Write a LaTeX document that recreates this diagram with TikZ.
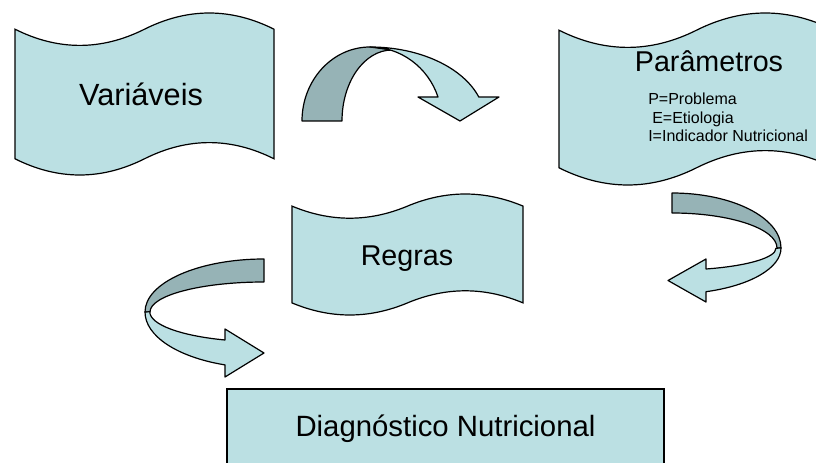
\documentclass[tikz,border=0pt]{standalone}
\usepackage{fontspec}
\setmainfont{Liberation Sans}
\usetikzlibrary{positioning}
\definecolor{nutfill}{RGB}{187,224,227}
\definecolor{nutback}{RGB}{150,179,182}
\tikzset{
  nut tape/.style={draw=black, fill=nutfill, line width=0.9pt},
  nut front/.style={draw=black, fill=nutfill, line width=0.9pt, line join=round},
  nut back/.style={draw=black, fill=nutback, line width=0.9pt, line join=round},
  nut big/.style={inner sep=0pt, font=\fontsize{22}{26}\selectfont},
  nut small/.style={inner sep=0pt, font=\fontsize{12}{14}\selectfont}
}
% punched tape: left x, top y (screen px), width, height
\newcommand{\nuttape}[4]{%
  \pgfmathsetmacro{\tpa}{0.1*#4}%
  \pgfmathsetmacro{\tpb}{0.1333*#4}%
  \pgfmathsetmacro{\tpc}{#3/6}%
  \pgfmathsetmacro{\tph}{0.5*#3}%
  \pgfmathsetmacro{\tpd}{0.8*#4}%
  \draw[nut tape] (#1,-#2-\tpa)
    .. controls +(\tpc,-\tpb) and +(-\tpc,-\tpb) .. ++(\tph,0)
    .. controls +(\tpc,\tpb) and +(-\tpc,\tpb) .. ++(\tph,0)
    -- ++(0,-\tpd)
    .. controls +(-\tpc,\tpb) and +(\tpc,\tpb) .. ++(-\tph,0)
    .. controls +(-\tpc,-\tpb) and +(\tpc,-\tpb) .. ++(-\tph,0)
    -- cycle;}

\begin{document}
\begin{tikzpicture}[x=0.75pt, y=0.75pt]
    \useasboundingbox (0,0) rectangle (816,-463);
    \clip (0,0) rectangle (816,-463);

    % tapes
    \nuttape{15}{13}{259}{162}
    \nuttape{559}{13}{275}{172}
    \nuttape{292}{194}{231}{121}
    \draw[nut tape] (227,-389) rectangle (664,-475);

    % arrow Variaveis -> Parametros
    \draw[nut back] (302,-121) arc[start angle=180, end angle=90, x radius=68, y radius=74]
      -- (392,-50) arc[start angle=90, end angle=180, x radius=50, y radius=71] -- cycle;
    \draw[nut front] (370,-47) arc[start angle=90, end angle=18.9, x radius=115, y radius=74]
      -- (499,-97) -- (460,-121) -- (418,-97) -- (438,-97)
      arc[start angle=18.9, end angle=90, x radius=72, y radius=74] -- cycle;

    % arrow Parametros -> Regras
    \draw[nut back] (672,-193) arc[start angle=90, end angle=0, x radius=109, y radius=55]
      -- (777,-248) arc[start angle=0, end angle=90, x radius=105, y radius=35] -- cycle;
    \draw[nut front] (781,-248) arc[start angle=0, end angle=-71.8, x radius=109, y radius=46]
      -- (706,-302) -- (668,-280.5) -- (706,-259) -- (706,-269)
      arc[start angle=-70.5, end angle=0, x radius=105, y radius=22] -- cycle;

    % arrow Regras -> Diagnostico
    \draw[nut back] (264,-259) arc[start angle=90, end angle=180, x radius=119, y radius=53]
      -- (150,-312) arc[start angle=180, end angle=90, x radius=114, y radius=30] -- cycle;
    \draw[nut front] (145,-312) arc[start angle=180, end angle=250.9, x radius=119, y radius=56]
      -- (225,-377) -- (264,-353) -- (225,-329) -- (225,-340)
      arc[start angle=250.1, end angle=180, x radius=114, y radius=30] -- cycle;

    % labels
    \node[nut big, anchor=base, font=\fontsize{23}{27}\selectfont] (var) at (141,-106) {Variáveis};
    \node[nut big, anchor=base, font=\fontsize{21.5}{26}\selectfont] (par) at (709,-72) {Parâmetros};
    \node[nut small, anchor=base west] (parP) at (648,-105) {P=Problema};
    \node[nut small, anchor=base west] (parE) at (652,-123.3) {E=Etiologia};
    \node[nut small, anchor=base west] (parI) at (648,-141.7) {I=Indicador Nutricional};
    \node[nut big, anchor=base, font=\fontsize{21.5}{26}\selectfont] (reg) at (407,-265) {Regras};
    \node[nut big, anchor=base] (diag) at (445.5,-436) {Diagnóstico Nutricional};
\end{tikzpicture}
\end{document}
